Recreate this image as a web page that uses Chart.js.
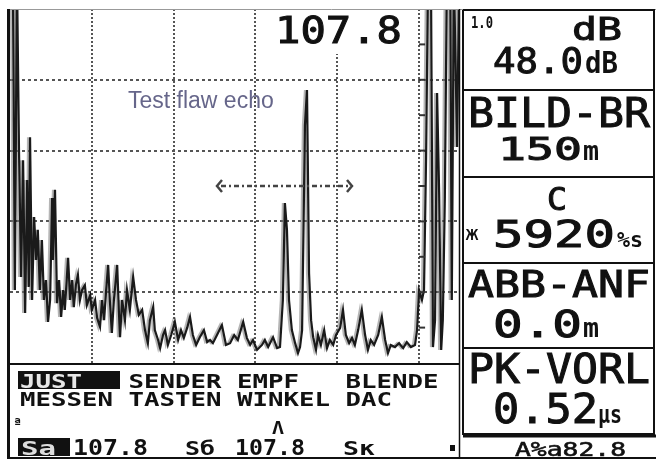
<!DOCTYPE html>
<html>
<head>
<meta charset="utf-8">
<script src="https://cdn.jsdelivr.net/npm/chart.js@4.4.1/dist/chart.umd.min.js"></script>
<style>
  html, body { margin: 0; padding: 0; background: #fff; }
  canvas { display: block; }
</style>
</head>
<body>
<canvas id="scan" width="656" height="459"></canvas>
<script>
// A-scan trace: sound path (mm) and echo height (% screen height)
const depth = [0,0.7,1.2,1.7,2.2,2.7,3.2,3.7,4.2,4.6,
  4.9,5.4,5.9,6.4,6.8,7.3,7.8,8.3,8.8,9.3,
  9.8,10.3,10.5,11.0,11.5,12.0,12.5,13.0,13.4,14.2,
  14.7,15.2,15.6,16.1,16.6,17.1,17.6,18.3,18.8,19.6,
  20.0,20.8,21.3,22.0,22.5,23.0,23.5,24.0,24.4,24.9,
  25.4,26.2,26.6,26.9,27.4,28.1,28.6,29.3,30.1,30.8,
  31.5,32.3,33.0,33.7,34.2,35.0,35.4,36.2,36.7,37.4,
  37.9,38.6,39.4,40.3,41.1,41.8,42.5,43.3,44.0,44.7,
  45.5,46.4,47.4,48.2,48.9,49.6,50.6,51.8,52.8,53.8,
  54.8,55.7,57.0,57.9,58.7,59.4,60.4,61.6,62.3,63.1,
  64.3,65.3,66.0,66.7,67.2,67.7,68.2,68.9,69.7,70.4,
  70.9,71.4,72.1,72.6,73.1,73.6,74.1,74.8,75.3,76.0,
  76.8,77.5,78.2,79.0,79.7,80.7,81.4,82.1,82.9,83.6,
  84.3,85.1,86.0,86.8,87.5,88.2,89.0,90.0,90.9,91.7,
  92.4,93.1,94.1,95.1,96.1,97.0,98.0,99.0,99.5,100.0,
  100.7,101.2,101.7,102.2,102.9,103.4,103.9,104.4,104.9,105.4,
  105.8,106.3,106.8,107.6,108.0,108.5,109.3,109.8,110];
const amplitude = [110,110,20.6,110,60.2,24.3,57.3,14.1,51.7,21.5,
  63.8,17.8,41.2,29.1,37.6,20.6,34.7,17.8,23.4,11.6,
  17.8,46.6,29.1,48.9,16.9,23.4,13.0,20.6,15.0,29.7,
  17.8,23.4,15.8,22.0,24.9,17.8,20.6,22.0,16.4,19.2,
  15.0,17.8,12.7,10.2,17.8,12.1,20.6,27.7,17.8,8.5,
  17.8,27.7,15.0,7.3,17.8,12.1,20.6,15.0,24.3,17.8,
  13.6,15.0,9.3,5.6,12.1,15.8,9.3,6.5,4.2,7.9,
  9.3,5.1,7.9,11.6,6.5,9.3,7.1,9.9,13.0,7.9,
  5.1,7.3,9.3,5.9,6.5,5.6,7.9,10.7,5.1,5.6,
  7.9,6.5,11.6,7.1,5.1,6.5,3.7,5.1,6.5,4.5,
  7.3,4.2,4.5,17.8,45.2,37.6,17.8,9.3,5.6,2.8,
  4.5,9.3,67.2,77.1,25.4,12.1,7.3,3.7,7.9,5.1,
  9.3,4.2,6.5,5.1,7.9,9.9,15.0,7.9,5.6,7.1,
  5.1,9.3,15.0,7.9,3.7,6.5,5.1,7.9,13.0,6.5,
  2.8,5.1,4.5,5.6,4.2,5.9,4.5,5.1,9.3,20.6,
  17.8,20.6,57.3,110,110,4.5,12.1,76.3,48.0,3.7,
  12.1,46.9,110,110,17.8,110,61.0,110,110];

// width marker under the flaw echo
const gateStart = 50.6;
const gateEnd = 83.6;
const gateLevel = 50;

const reading = "107.8";
const echoLabel = "Test flaw echo";

// right-hand parameter boxes
const panelTitles = ["dB", "BILD-BR", "C", "ABB-ANF", "PK-VORL"];
const panelValues = ["48.0", "150", "5920", "0.0", "0.52"];
const panelUnits = ["dB", "m", "%s", "m", "µs"];

// menu lines under the screen
const menuTop = ["JUST", "SENDER", "EMPF", "BLENDE"];
const menuBottom = ["MESSEN", "TASTEN", "WINKEL", "DAC"];
const statusLine = ["Sa", "107.8", "Sб", "107.8", "Sк", "A%a82.8"];

function fit(ctx, str, x1, x2, base, size, color, bold, stroke) {
  ctx.save();
  ctx.font = (bold ? "bold " : "") + size + 'px "DejaVu Sans Mono"';
  ctx.fillStyle = color || "#111";
  ctx.strokeStyle = color || "#111";
  ctx.textBaseline = "alphabetic";
  const w = ctx.measureText(str).width;
  ctx.translate(x1, base);
  ctx.scale((x2 - x1) / w, 1);
  ctx.fillText(str, 0, 0);
  if (stroke) {
    ctx.lineWidth = stroke;
    ctx.strokeText(str, 0, 0);
  }
  ctx.restore();
}

function mono(ctx, str, x, base, pitch, size, color, bold) {
  ctx.save();
  ctx.font = (bold ? "bold " : "") + size + 'px "DejaVu Sans Mono"';
  ctx.fillStyle = color || "#111";
  ctx.textBaseline = "alphabetic";
  const w = ctx.measureText("M").width;
  ctx.translate(x, base);
  ctx.scale(pitch / w, 1);
  ctx.fillText(str, 0, 0);
  ctx.restore();
}

function seg(ctx, x1, y1, x2, y2) {
  ctx.beginPath();
  ctx.moveTo(x1, y1);
  ctx.lineTo(x2, y2);
  ctx.stroke();
}

const screenPlugin = {
  id: "screen",
  beforeDatasetsDraw(chart) {
    // LCD ghosting: a faint grey echo beside the trace
    const ctx = chart.ctx;
    ctx.save();
    ctx.shadowColor = "rgba(120,120,120,0.55)";
    ctx.shadowOffsetX = -2;
    ctx.shadowOffsetY = 0;
    ctx.shadowBlur = 0;
  },
  afterDatasetsDraw(chart) {
    chart.ctx.restore();
  },
  afterDraw(chart) {
    const ctx = chart.ctx;
    const xs = chart.scales.x;
    const ys = chart.scales.y;
    ctx.save();

    // half-division marks on the right grid line
    ctx.strokeStyle = "#333";
    ctx.lineWidth = 2;
    const xr = xs.getPixelForValue(100);
    for (let v = 10; v < 100; v += 10) {
      const y = ys.getPixelForValue(v);
      seg(ctx, xr, y, xr + 6, y);
    }

    // width marker arrow
    const gx1 = xs.getPixelForValue(gateStart);
    const gx2 = xs.getPixelForValue(gateEnd);
    const gy = ys.getPixelForValue(gateLevel);
    ctx.strokeStyle = "#444";
    ctx.lineWidth = 2.5;
    ctx.setLineDash([5, 3, 2, 3]);
    seg(ctx, gx1 + 4, gy, gx2 - 4, gy);
    ctx.setLineDash([]);
    ctx.beginPath();
    ctx.moveTo(gx1 + 5, gy - 6); ctx.lineTo(gx1, gy); ctx.lineTo(gx1 + 5, gy + 6);
    ctx.moveTo(gx2 - 5, gy - 6); ctx.lineTo(gx2, gy); ctx.lineTo(gx2 - 5, gy + 6);
    ctx.stroke();

    // sound path reading
    ctx.fillStyle = "#fff";
    ctx.fillRect(268, 10, 142, 44);
    fit(ctx, reading, 275, 402, 43, 37, "#111", false, 1);

    ctx.font = '23px "Liberation Sans", Arial, sans-serif';
    ctx.fillStyle = "#66668a";
    ctx.fillText(echoLabel, 128, 108);

    // frame
    ctx.strokeStyle = "#999";
    ctx.lineWidth = 1;
    seg(ctx, 7, 9.5, 656, 9.5);
    ctx.strokeStyle = "#111";
    ctx.lineWidth = 3;
    seg(ctx, 8.5, 9, 8.5, 459);
    ctx.lineWidth = 2;
    seg(ctx, 8, 364, 460, 364);
    seg(ctx, 8, 458, 656, 458);
    ctx.lineWidth = 1.5;
    seg(ctx, 459.5, 9, 459.5, 459);

    // right panel boxes
    const edges = [10, 90, 177, 263, 348, 434];
    ctx.lineWidth = 2;
    seg(ctx, 463, 10, 463, 435);
    seg(ctx, 654, 10, 654, 435);
    edges.forEach((y) => seg(ctx, 463, y, 655, y));
    ctx.lineWidth = 3;
    seg(ctx, 463, 436, 656, 436);

    const panel = [
      { t: [572, 622, 40, 32], v: [493, 583, 73, 36], u: [585, 618, 73, 30] },
      { t: [468, 650, 127, 41], v: [498, 582, 160, 32], u: [583, 599, 160, 27] },
      { t: [547, 567, 210, 32], v: [493, 615, 247, 37], u: [617, 643, 247, 22] },
      { t: [468, 650, 297, 37], v: [493, 582, 337, 37], u: [583, 599, 337, 27] },
      { t: [468, 650, 383, 41], v: [493, 598, 423, 41], u: [598, 622, 423, 24] }
    ];
    panel.forEach((p, i) => {
      fit(ctx, panelTitles[i], p.t[0], p.t[1], p.t[2], p.t[3], "#111", false, 1);
      fit(ctx, panelValues[i], p.v[0], p.v[1], p.v[2], p.v[3], "#111", false, 1);
      fit(ctx, panelUnits[i], p.u[0], p.u[1], p.u[2], p.u[3], "#111", true);
    });
    fit(ctx, "1.0", 471, 493, 28, 16, "#111", true);
    fit(ctx, "ж", 465, 479, 240, 20, "#111", false);

    // menu
    ctx.fillStyle = "#111";
    ctx.fillRect(18, 371, 102, 18);
    const pitch = 15.5;
    const menuCols = [0, 7, 14, 21];
    menuTop.forEach((w, i) => {
      mono(ctx, w, 20 + menuCols[i] * pitch, 388, pitch, 20, i === 0 ? "#e8e8e8" : "#111", true);
    });
    menuBottom.forEach((w, i) => {
      mono(ctx, w, 20 + menuCols[i] * pitch, 406, pitch, 20, "#111", true);
    });
    mono(ctx, "ª", 13, 428, 9, 14, "#111", true);
    mono(ctx, "Λ", 272, 434, 12, 18, "#111", true);

    // status line
    ctx.fillStyle = "#111";
    ctx.fillRect(18, 438, 52, 18);
    fit(ctx, statusLine[0], 21, 56, 455, 20, "#ddd", true);
    fit(ctx, statusLine[1], 73, 148, 455, 21, "#111", true);
    fit(ctx, statusLine[2], 185, 215, 455, 20, "#111", true);
    fit(ctx, statusLine[3], 235, 305, 455, 21, "#111", true);
    fit(ctx, statusLine[4], 343, 375, 455, 20, "#111", true);
    ctx.fillStyle = "#111";
    ctx.fillRect(450, 445, 5, 6);
    fit(ctx, statusLine[5], 515, 626, 456, 20, "#111", false, 0.6);

    ctx.restore();
  }
};

const edgeTick = (lo, hi) => (c) =>
  c.tick && (c.tick.value === lo || c.tick.value === hi) ? "rgba(0,0,0,0)" : "#555";

new Chart(document.getElementById("scan"), {
  type: "line",
  data: {
    datasets: [{
      data: depth.map((d, i) => ({ x: d, y: amplitude[i] })),
      borderColor: "#1a1a1a",
      borderWidth: 2.2,
      pointRadius: 0,
      tension: 0
    }]
  },
  options: {
    responsive: false,
    animation: false,
    devicePixelRatio: 1,
    layout: { padding: { left: 10, top: 9, right: 196, bottom: 96 } },
    plugins: { legend: { display: false }, tooltip: { enabled: false } },
    scales: {
      x: {
        type: "linear",
        min: 0,
        max: 110,
        ticks: { display: false, stepSize: 20 },
        grid: { color: edgeTick(0, 110), lineWidth: 2, drawTicks: false },
        border: { display: false, dash: [2, 2] }
      },
      y: {
        min: 0,
        max: 100,
        ticks: { display: false, stepSize: 20 },
        grid: { color: edgeTick(0, 100), lineWidth: 2, drawTicks: false },
        border: { display: false, dash: [3, 3] }
      }
    }
  },
  plugins: [screenPlugin]
});
</script>
</body>
</html>
